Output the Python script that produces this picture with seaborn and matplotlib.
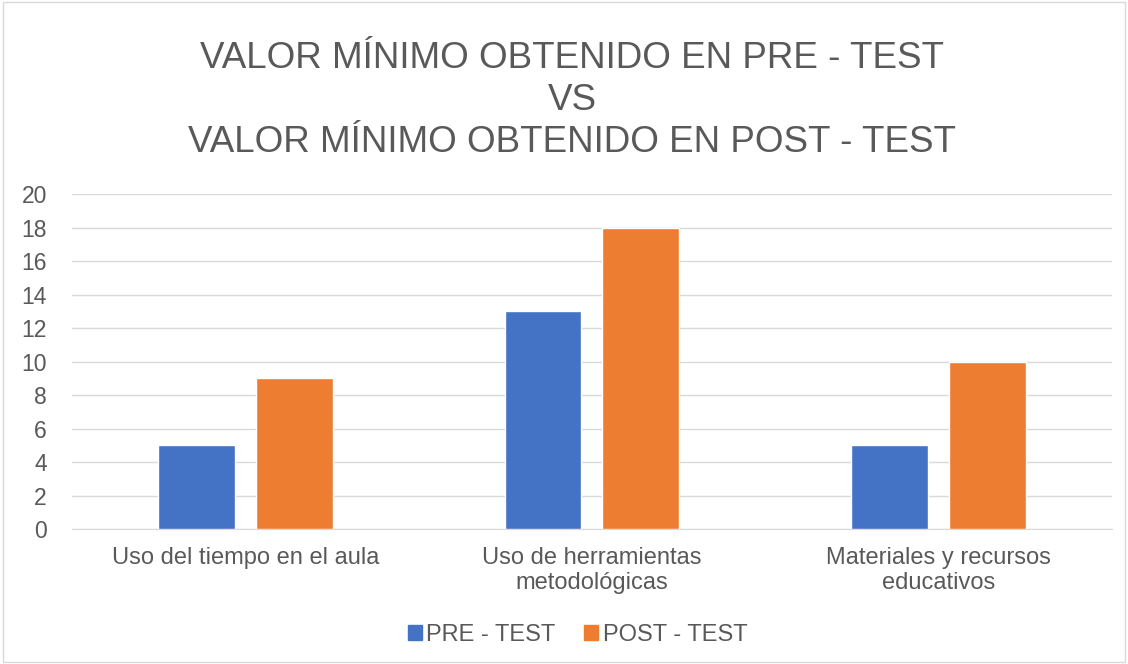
import seaborn as sns
import matplotlib.pyplot as plt
import pandas as pd
from matplotlib.patches import Rectangle

categories = ["Uso del tiempo en el aula", "Uso de herramientas\nmetodológicas",
              "Materiales y recursos\neducativos"]
pre_test = [5, 13, 5]
post_test = [9, 18, 10]
series = ["PRE - TEST", "POST - TEST"]
colors = ["#4472C4", "#ED7D31"]
title_lines = ["VALOR MÍNIMO OBTENIDO EN PRE - TEST", "VS",
               "VALOR MÍNIMO OBTENIDO EN POST - TEST"]

df = pd.DataFrame({
    "Categoria": categories * 2,
    "Valor": pre_test + post_test,
    "Serie": [series[0]] * 3 + [series[1]] * 3,
})

sns.set_style("white")
plt.rcParams["font.family"] = ["Liberation Sans", "DejaVu Sans"]

fig = plt.figure(figsize=(11.28, 6.64), dpi=100)
ax = fig.add_axes([0.0638, 0.2033, 0.922, 0.5045])

sns.barplot(data=df, x="Categoria", y="Valor", hue="Serie", palette=colors,
            saturation=1, width=0.565, gap=0.214, ax=ax, zorder=3)

ax.set_ylim(0, 20)
ax.set_yticks(range(0, 21, 2))
ax.grid(axis="y", color="#D9D9D9", linewidth=1, zorder=0)
ax.set_axisbelow(True)
ax.set_xlabel("")
ax.set_ylabel("")
for s in ["top", "right", "left"]:
    ax.spines[s].set_visible(False)
ax.spines["bottom"].set_color("#D9D9D9")
ax.tick_params(axis="y", length=0, labelsize=16.5, colors="#595959", pad=18)
ax.tick_params(axis="x", length=0, labelsize=17, colors="#595959", pad=13)

# title, one line at a time
for txt, ypix in zip(title_lines, [58, 100, 142]):
    fig.text(0.507, 1 - ypix / 664, txt, ha="center", va="center",
             fontsize=26.5, color="#595959")

ax.get_legend().remove()
handles = [Rectangle((0, 0), 1, 1, color=c) for c in colors]
fig.legend(handles, series, loc="center", bbox_to_anchor=(0.512, 1 - 635 / 664), ncol=2,
           frameon=False, fontsize=17, handlelength=0.6, handleheight=0.6,
           handletextpad=0.2, columnspacing=1.2, labelcolor="#595959")

fig.patches.append(Rectangle((0.003, 0.003), 0.994, 0.994, transform=fig.transFigure,
                             fill=False, edgecolor="#D9D9D9", linewidth=1))

fig.savefig("out.png", dpi=100, facecolor="white")
